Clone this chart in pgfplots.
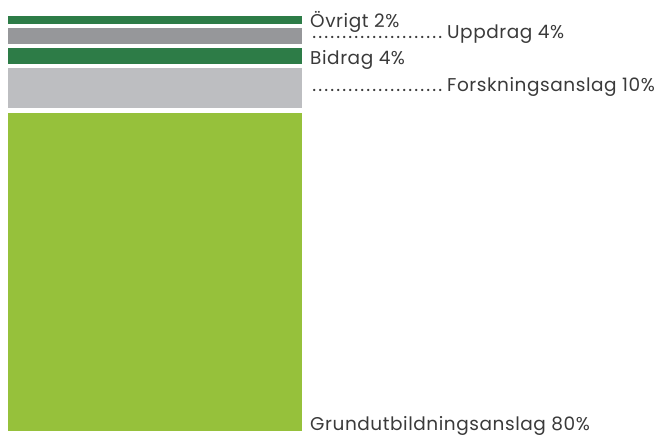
\documentclass[border=0pt]{standalone}
\usepackage{fontspec}
\setmainfont{Poppins}[LetterSpace=3]
\usepackage{pgfplots}
\pgfplotsset{compat=1.18}
\definecolor{dgreen}{HTML}{2D7C47}
\definecolor{mgray}{HTML}{96979A}
\definecolor{lgray}{HTML}{BDBEC1}
\definecolor{lime}{HTML}{96C13B}
\definecolor{txt}{HTML}{3A3A3A}
\newcommand{\dotlead}{\leaders\hbox to 6bp{\hss.}\hskip 136bp\relax\kern0pt}
\begin{document}
\begin{tikzpicture}
\begin{axis}[
  scale only axis, width=664bp, height=435bp,
  xmin=0, xmax=664, ymin=-1.08, ymax=108.31,
  axis line style={draw=none}, ticks=none, clip=false,
  ybar stacked, bar width=293.7,
]
\addplot[fill=lime, draw=none] coordinates {(154.85,80)};
\addplot[fill=none, draw=none] coordinates {(154.85,1.09)};
\addplot[fill=lgray, draw=none] coordinates {(154.85,10)};
\addplot[fill=none, draw=none] coordinates {(154.85,1.09)};
\addplot[fill=dgreen, draw=none] coordinates {(154.85,4)};
\addplot[fill=none, draw=none] coordinates {(154.85,1.09)};
\addplot[fill=mgray, draw=none] coordinates {(154.85,4)};
\addplot[fill=none, draw=none] coordinates {(154.85,1.09)};
\addplot[fill=dgreen, draw=none] coordinates {(154.85,2)};
\node[anchor=base west, inner sep=0pt, text=txt, font=\fontsize{18.5bp}{20bp}\selectfont] at (axis cs:310,101.34) {Övrigt 2\%};
\node[anchor=base west, inner sep=0pt, text=txt, font=\fontsize{18.5bp}{20bp}\selectfont] at (axis cs:310,98.63) {\dotlead};
\node[anchor=base west, inner sep=0pt, text=txt, font=\fontsize{18.5bp}{20bp}\selectfont] at (axis cs:447,98.63) {Uppdrag 4\%};
\node[anchor=base west, inner sep=0pt, text=txt, font=\fontsize{18.5bp}{20bp}\selectfont] at (axis cs:310,92.18) {Bidrag 4\%};
\node[anchor=base west, inner sep=0pt, text=txt, font=\fontsize{18.5bp}{20bp}\selectfont] at (axis cs:310,85.30) {\dotlead};
\node[anchor=base west, inner sep=0pt, text=txt, font=\fontsize{18.5bp}{20bp}\selectfont] at (axis cs:447,85.30) {Forskningsanslag 10\%};
\node[anchor=base west, inner sep=0pt, text=txt, font=\fontsize{18.5bp}{20bp}\selectfont] at (axis cs:310,0) {Grundutbildningsanslag 80\%};
\end{axis}
\end{tikzpicture}
\end{document}
